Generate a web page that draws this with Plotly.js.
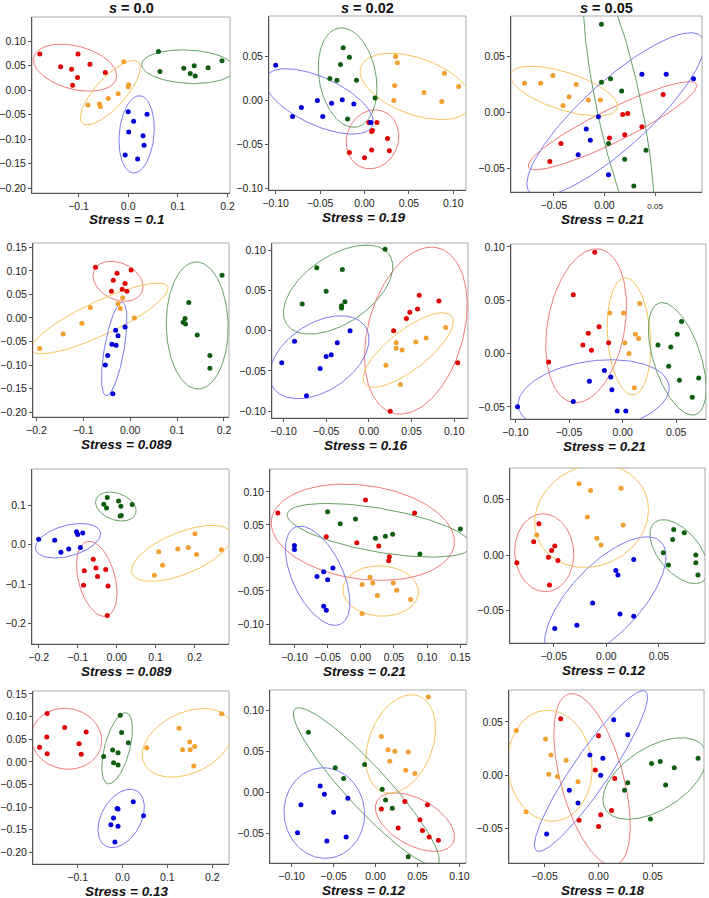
<!DOCTYPE html>
<html>
<head>
<meta charset="utf-8">
<script src="https://cdn.plot.ly/plotly-3.0.1.min.js"></script>
<style>
  html, body { margin: 0; padding: 0; background: #fff; }
  #chart { width: 709px; height: 898px; }
</style>
</head>
<body>
<div id="chart"></div>
<script>
// group order in every panel: red, orange, green, blue
var POINT_COLORS = ["#e00000", "#f0a030", "#0d5e0d", "#0000d8"];
var RING_COLORS = ["#f07a7a", "#f6c45c", "#66a066", "#7b7bf2"];

var COLUMN_TITLES = ["0.0", "0.02", "0.05"];
var STRESS = ["0.1", "0.19", "0.21", "0.089", "0.16", "0.21", "0.089", "0.21", "0.12", "0.13", "0.12", "0.18"];

// ellipses: [cx, cy, semi-axis a, semi-axis b, angle in degrees]

// row 1, s = 0.0
var p1x = [[-0.178, -0.101, -0.136, -0.114, -0.077, -0.046, -0.102, -0.112],
           [-0.009, 0.001, 0.000, -0.020, -0.040, -0.058, -0.056, -0.081],
           [0.061, 0.064, 0.112, 0.133, 0.125, 0.135, 0.161, 0.189],
           [0.000, 0.011, 0.038, 0.001, 0.030, 0.032, -0.006, 0.019]];
var p1y = [[0.074, 0.074, 0.048, 0.043, 0.053, 0.036, 0.026, 0.010],
           [0.058, 0.011, 0.007, -0.007, -0.017, -0.028, -0.033, -0.030],
           [0.079, 0.038, 0.045, 0.050, 0.034, 0.029, 0.046, 0.060],
           [-0.044, -0.063, -0.049, -0.085, -0.093, -0.112, -0.132, -0.140]];
var p1ell = [[-0.107, 0.046, 0.086, 0.044, -15], [-0.036, -0.005, 0.084, 0.030, 48],
             [0.121, 0.048, 0.094, 0.034, -3], [0.017, -0.090, 0.079, 0.035, 85]];
var p1xt = ["-0.1", "0.0", "0.1", "0.2"];
var p1yt = ["0.10", "0.05", "0.00", "-0.05", "-0.10", "-0.15", "-0.20"];

// row 1, s = 0.02
var p2x = [[0.005, 0.014, 0.008, 0.009, 0.026, 0.008, -0.017, 0.028, 0.000],
           [0.035, 0.037, 0.034, 0.090, 0.106, 0.067, 0.033, 0.087],
           [-0.024, -0.017, -0.027, -0.039, -0.031, -0.009, 0.012, -0.019],
           [-0.100, -0.081, -0.071, -0.053, -0.047, -0.037, -0.025, -0.012, 0.007]];
var p2y = [[-0.025, -0.025, -0.035, -0.034, -0.043, -0.056, -0.059, -0.057, -0.065],
           [0.050, 0.043, 0.017, 0.031, 0.016, 0.009, 0.000, -0.001],
           [0.060, 0.049, 0.041, 0.025, 0.023, 0.023, 0.003, -0.021],
           [0.040, -0.018, -0.008, 0.000, -0.018, -0.003, 0.001, -0.004, -0.025]];
var p2ell = [[0.009, -0.044, 0.034, 0.029, 70], [0.058, 0.016, 0.066, 0.032, -20],
             [-0.019, 0.026, 0.057, 0.032, 100], [-0.051, -0.001, 0.066, 0.027, -25]];
var p2xt = ["-0.10", "-0.05", "0.00", "0.05", "0.10"];
var p2yt = ["0.05", "0.00", "-0.05", "-0.10"];

// row 1, s = 0.05
var p3x = [[-0.054, -0.043, 0.005, 0.018, 0.023, 0.037, 0.020, 0.058],
           [-0.079, -0.063, -0.051, -0.028, -0.035, -0.041, -0.016, -0.004],
           [-0.003, -0.003, 0.006, 0.017, 0.004, 0.041, 0.020, 0.029],
           [-0.006, -0.018, -0.014, -0.026, 0.037, 0.061, 0.088, 0.004]];
var p3y = [[-0.044, -0.028, -0.023, -0.002, -0.001, -0.013, -0.020, 0.016],
           [0.026, 0.026, 0.033, 0.025, 0.014, 0.006, 0.011, 0.011],
           [0.079, 0.027, 0.030, 0.019, -0.028, -0.034, -0.042, -0.066],
           [-0.004, -0.015, -0.025, -0.038, 0.034, 0.034, 0.030, -0.056]];
var p3ell = [[0.008, -0.012, 0.091, 0.015, 24], [-0.040, 0.019, 0.055, 0.017, -16],
             [0.014, 0.007, 0.123, 0.022, 103], [0.011, -0.002, 0.110, 0.031, 39]];
var p3xt = ["-0.05", "0.00", "0.05"];
var p3yt = ["0.05", "0.00", "-0.05"];

// row 2
var p4x = [[-0.074, -0.028, -0.036, -0.011, -0.040, -0.017, -0.007, 0.002],
           [-0.193, -0.143, -0.103, -0.085, -0.026, -0.021, -0.016, 0.009],
           [0.196, 0.125, 0.117, 0.113, 0.118, 0.143, 0.170, 0.170],
           [-0.031, -0.011, -0.026, -0.039, -0.030, -0.048, -0.053, -0.037]];
var p4y = [[0.108, 0.095, 0.080, 0.073, 0.057, 0.061, 0.057, 0.102],
           [-0.065, -0.034, -0.011, 0.022, 0.030, 0.020, 0.043, 0.000],
           [0.091, 0.033, -0.001, -0.009, -0.013, -0.036, -0.080, -0.107],
           [-0.026, -0.019, -0.038, -0.056, -0.058, -0.080, -0.100, -0.161]];
var p4ell = [[-0.026, 0.078, 0.056, 0.039, -25], [-0.065, -0.001, 0.160, 0.036, 25],
             [0.143, -0.016, 0.135, 0.066, 91], [-0.034, -0.066, 0.101, 0.021, 80]];
var p4xt = ["-0.2", "-0.1", "0.00", "0.1", "0.2"];
var p4yt = ["0.15", "0.10", "0.05", "0.00", "-0.05", "-0.10", "-0.15", "-0.20"];

var p5x = [[0.059, 0.082, 0.048, 0.057, 0.044, 0.029, 0.104, 0.025],
           [0.090, 0.067, 0.055, 0.032, 0.032, 0.039, 0.020, 0.037],
           [0.019, -0.061, -0.031, -0.050, -0.078, -0.028, -0.032, -0.032],
           [-0.022, -0.087, -0.037, -0.044, -0.050, -0.057, -0.102, -0.073]];
var p5y = [[0.044, 0.037, 0.023, 0.027, 0.015, 0.000, -0.040, -0.100],
           [0.004, -0.009, -0.014, -0.015, -0.022, -0.024, -0.043, -0.067],
           [0.101, 0.078, 0.076, 0.049, 0.033, 0.036, 0.031, 0.028],
           [0.000, -0.013, -0.015, -0.030, -0.032, -0.047, -0.040, -0.081]];
var p5ell = [[0.055, 0.000, 0.106, 0.056, 76], [0.046, -0.024, 0.066, 0.024, 40],
             [-0.036, 0.051, 0.074, 0.041, 37], [-0.058, -0.033, 0.066, 0.041, 37]];
var p5xt = ["-0.10", "-0.05", "0.00", "0.05", "0.10"];
var p5yt = ["0.10", "0.05", "0.00", "-0.05", "-0.10"];

var p6x = [[-0.026, -0.046, -0.022, -0.032, -0.037, -0.029, -0.013, -0.069],
           [0.016, -0.012, 0.001, 0.012, 0.015, 0.002, 0.006, 0.011],
           [0.055, 0.051, 0.033, 0.045, 0.043, 0.071, 0.053, 0.065],
           [-0.017, -0.011, -0.031, -0.010, -0.046, -0.098, -0.005, 0.003]];
var p6y = [[0.095, 0.055, 0.025, 0.019, 0.008, 0.003, 0.010, -0.008],
           [0.047, 0.038, 0.038, 0.018, 0.014, 0.010, 0.000, -0.032],
           [0.030, 0.018, 0.008, 0.006, -0.012, -0.023, -0.025, -0.041],
           [-0.016, -0.022, -0.026, -0.034, -0.045, -0.050, -0.054, -0.054]];
var p6ell = [[-0.034, 0.026, 0.073, 0.036, 80], [0.006, 0.016, 0.055, 0.020, 94],
             [0.051, -0.005, 0.055, 0.022, 108], [-0.027, -0.040, 0.071, 0.033, 8]];
var p6xt = ["-0.10", "-0.05", "0.00", "0.05"];
var p6yt = ["0.10", "0.05", "0.00", "-0.05"];

// row 3
var p7x = [[-0.060, -0.083, -0.053, -0.028, -0.049, -0.085, -0.022, -0.024],
           [0.097, 0.118, 0.108, 0.157, 0.184, 0.201, 0.205, 0.269],
           [-0.024, -0.033, -0.026, 0.005, 0.011, 0.040, 0.009, 0.012],
           [-0.200, -0.159, -0.143, -0.123, -0.103, -0.100, -0.087, -0.093]];
var p7y = [[-0.037, -0.066, -0.059, -0.063, -0.081, -0.103, -0.105, -0.180],
           [-0.078, -0.052, -0.018, -0.011, -0.007, 0.028, -0.025, -0.013],
           [0.120, 0.103, 0.093, 0.111, 0.098, 0.102, 0.073, 0.074],
           [0.014, 0.011, -0.019, -0.011, 0.033, 0.026, 0.030, -0.007]];
var p7ell = [[-0.051, -0.087, 0.098, 0.047, 105], [0.167, -0.022, 0.137, 0.053, 22],
             [-0.002, 0.097, 0.054, 0.034, -20], [-0.125, 0.010, 0.086, 0.039, 15]];
var p7xt = ["-0.2", "-0.1", "0.00", "0.1", "0.2"];
var p7yt = ["0.1", "0.0", "-0.1", "-0.2"];

var p8x = [[-0.125, 0.007, 0.081, -0.052, -0.006, 0.027, 0.043, 0.042],
           [0.014, 0.002, 0.018, 0.049, 0.054, 0.025, 0.075, 0.002],
           [-0.050, -0.031, -0.008, 0.022, 0.037, 0.048, 0.089, 0.150],
           [-0.100, -0.100, -0.042, -0.066, -0.056, -0.050, -0.056, -0.052]];
var p8y = [[0.068, 0.088, 0.068, 0.032, 0.023, 0.018, 0.002, -0.004],
           [-0.029, -0.040, -0.038, -0.038, -0.049, -0.057, -0.063, -0.084],
           [0.070, 0.052, 0.059, 0.030, 0.033, 0.036, 0.006, 0.044],
           [0.019, 0.013, -0.015, -0.028, -0.021, -0.033, -0.073, -0.079]];
var p8ell = [[0.003, 0.039, 0.139, 0.071, -8], [0.030, -0.050, 0.057, 0.038, -3],
             [0.028, 0.042, 0.141, 0.033, -10], [-0.065, -0.027, 0.081, 0.038, 115]];
var p8xt = ["-0.10", "-0.05", "0.00", "0.05", "0.10", "0.15"];
var p8yt = ["0.10", "0.05", "0.00", "-0.05", "-0.10"];

var p9x = [[-0.064, -0.069, -0.049, -0.052, -0.055, -0.046, -0.085, -0.054],
           [-0.026, -0.015, 0.014, -0.018, 0.016, -0.009, -0.005, -0.066],
           [0.064, 0.074, 0.063, 0.054, 0.059, 0.085, 0.085, 0.087],
           [0.026, 0.009, 0.011, -0.013, 0.013, 0.026, -0.028, -0.049]];
var p9y = [[0.028, 0.012, 0.008, 0.004, -0.002, -0.005, -0.007, -0.027],
           [0.064, 0.058, 0.060, 0.034, 0.027, 0.015, 0.009, 0.018],
           [0.023, 0.020, 0.014, 0.002, -0.009, 0.000, -0.007, -0.018],
           [-0.004, -0.014, -0.018, -0.043, -0.053, -0.055, -0.063, -0.066]];
var p9ell = [[-0.059, 0.002, 0.035, 0.028, 95], [-0.014, 0.035, 0.055, 0.045, 19],
             [0.069, 0.003, 0.035, 0.019, -47], [-0.001, -0.040, 0.074, 0.032, 44]];
var p9xt = ["-0.05", "0.00", "0.05"];
var p9yt = ["0.05", "0.00", "-0.05"];

// row 4
var p10x = [[-0.168, -0.129, -0.081, -0.169, -0.185, -0.097, -0.168, -0.092],
            [0.221, 0.126, 0.150, 0.134, 0.151, 0.161, 0.054, 0.159],
            [-0.005, -0.002, 0.013, -0.022, -0.010, -0.042, -0.020, -0.010],
            [0.024, -0.012, -0.010, 0.047, -0.020, -0.026, -0.010, -0.017]];
var p10y = [[0.107, 0.076, 0.066, 0.055, 0.032, 0.040, 0.018, 0.017],
            [0.106, 0.074, 0.044, 0.027, 0.027, 0.034, 0.031, -0.009],
            [0.103, 0.065, 0.042, 0.026, 0.020, 0.012, -0.002, -0.007],
            [-0.088, -0.103, -0.104, -0.119, -0.124, -0.139, -0.142, -0.177]];
var p10ell = [[-0.125, 0.051, 0.079, 0.067, -10], [0.145, 0.042, 0.107, 0.067, 25],
              [-0.012, 0.030, 0.081, 0.028, 75], [-0.003, -0.125, 0.070, 0.044, 60]];
var p10xt = ["-0.1", "0.0", "0.1", "0.2"];
var p10yt = ["0.15", "0.10", "0.05", "0.00", "-0.05", "-0.10", "-0.15", "-0.20"];

var p11x = [[0.035, 0.007, 0.053, 0.062, 0.027, 0.056, 0.064, 0.075],
            [0.063, 0.007, 0.015, 0.023, 0.039, 0.017, 0.036, 0.047],
            [-0.080, -0.048, -0.013, -0.038, 0.008, 0.012, 0.020, 0.039],
            [-0.066, -0.061, -0.089, -0.033, -0.050, -0.093, -0.058, -0.035]];
var p11y = [[-0.011, -0.020, -0.033, -0.015, -0.043, -0.046, -0.054, -0.058],
            [0.116, 0.068, 0.052, 0.050, 0.049, 0.038, 0.027, 0.023],
            [0.073, 0.030, 0.034, 0.017, 0.004, -0.009, -0.019, -0.078],
            [0.008, -0.002, -0.015, -0.007, -0.024, -0.049, -0.059, -0.054]];
var p11ell = [[0.047, -0.036, 0.052, 0.028, -30], [0.030, 0.059, 0.062, 0.038, 70],
              [-0.011, 0.007, 0.127, 0.025, -48], [-0.061, -0.025, 0.055, 0.048, 95]];
var p11xt = ["-0.10", "-0.05", "0.00", "0.05", "0.10"];
var p11yt = ["0.10", "0.05", "0.00", "-0.05"];

var p12x = [[-0.035, 0.000, -0.003, 0.015, 0.002, 0.012, -0.018, 0.000],
            [-0.076, -0.049, -0.044, -0.030, -0.046, -0.038, -0.019, -0.067],
            [0.049, 0.057, 0.070, 0.062, 0.027, 0.024, 0.048, 0.092],
            [0.014, 0.027, -0.008, 0.004, 0.002, -0.027, -0.019, -0.048]];
var p12y = [[0.053, 0.037, 0.005, -0.003, -0.037, -0.033, -0.042, -0.048],
            [0.042, 0.034, 0.019, 0.014, 0.001, -0.001, -0.006, -0.034],
            [0.011, 0.013, 0.007, -0.009, -0.007, -0.014, -0.041, 0.016],
            [0.052, 0.038, 0.019, 0.016, 0.000, -0.014, -0.026, -0.055]];
var p12ell = [[-0.006, -0.004, 0.083, 0.029, 105], [-0.045, 0.009, 0.052, 0.039, 95],
              [0.052, -0.003, 0.054, 0.029, 33], [-0.007, 0.004, 0.090, 0.017, 56]];
var p12xt = ["-0.05", "0.00", "0.05"];
var p12yt = ["0.05", "0.00", "-0.05"];

var PANELS = [
  [p1x, p1y, p1ell, p1xt, p1yt], [p2x, p2y, p2ell, p2xt, p2yt], [p3x, p3y, p3ell, p3xt, p3yt],
  [p4x, p4y, p4ell, p4xt, p4yt], [p5x, p5y, p5ell, p5xt, p5yt], [p6x, p6y, p6ell, p6xt, p6yt],
  [p7x, p7y, p7ell, p7xt, p7yt], [p8x, p8y, p8ell, p8xt, p8yt], [p9x, p9y, p9ell, p9xt, p9yt],
  [p10x, p10y, p10ell, p10xt, p10yt], [p11x, p11y, p11ell, p11xt, p11yt], [p12x, p12y, p12ell, p12xt, p12yt]
];

// plot boxes in page pixels: left, right, top, bottom
var BOXES = [
  [32, 230, 17, 193], [269, 466, 16, 190], [511, 702, 16, 192],
  [33, 229, 243, 417], [272, 468, 243, 418], [511, 706, 244, 419],
  [32, 229, 469, 644], [270, 467, 469, 644], [510, 705, 468, 643],
  [33, 229, 691, 864], [270, 466, 690, 863], [509, 704, 690, 863]
];
var XRANGES = [
  [-0.1937, 0.2051], [-0.1075, 0.1143], [-0.0924, 0.0964],
  [-0.2073, 0.2108], [-0.1134, 0.1161], [-0.1041, 0.0778],
  [-0.2172, 0.2884], [-0.1368, 0.1600], [-0.0915, 0.0937],
  [-0.1996, 0.2375], [-0.1258, 0.1079], [-0.0828, 0.0975]
];
var YRANGES = [
  [-0.2095, 0.1493], [-0.1015, 0.0959], [-0.0714, 0.0863],
  [-0.2105, 0.1593], [-0.1085, 0.1089], [-0.0614, 0.1027],
  [-0.2525, 0.1924], [-0.1303, 0.1348], [-0.0790, 0.0781],
  [-0.2256, 0.1565], [-0.0856, 0.1244], [-0.0821, 0.0799]
];

var W = 709, H = 898;
var FONT = "Liberation Sans, Arial, sans-serif";

var ellipseOutline = function(e) {
  var xs = [], ys = [];
  var th = e[4] * Math.PI / 180;
  for (var i = 0; i <= 160; i++) {
    var t = 2 * Math.PI * i / 160;
    var u = e[2] * Math.cos(t), v = e[3] * Math.sin(t);
    xs.push(e[0] + u * Math.cos(th) - v * Math.sin(th));
    ys.push(e[1] + u * Math.sin(th) + v * Math.cos(th));
  }
  return { x: xs, y: ys };
};

var minus = function(s) { return s.replace("-", "\u2212"); };

var data = [];
var layout = {
  width: W, height: H,
  margin: { l: 0, r: 0, t: 0, b: 0 },
  paper_bgcolor: "#fff", plot_bgcolor: "#fff",
  showlegend: false,
  shapes: [], annotations: []
};

PANELS.forEach(function(p, i) {
  var n = i + 1;
  var xa = "x" + (n === 1 ? "" : n), ya = "y" + (n === 1 ? "" : n);
  var box = BOXES[i];

  p[2].forEach(function(e, g) {
    var o = ellipseOutline(e);
    data.push({ type: "scatter", mode: "lines", x: o.x, y: o.y, xaxis: xa, yaxis: ya,
      line: { color: RING_COLORS[g], width: 1 }, hoverinfo: "skip" });
  });
  p[0].forEach(function(xs, g) {
    data.push({ type: "scatter", mode: "markers", x: xs, y: p[1][g], xaxis: xa, yaxis: ya,
      marker: { color: POINT_COLORS[g], size: 5 }, cliponaxis: true });
  });

  var xtext = p[3].map(minus);
  if (n === 3) xtext[2] = "<span style='font-size:8px'>0.05</span>";

  var axisBase = {
    ticks: "outside", ticklen: 3, tickcolor: "#555", tickwidth: 1,
    showline: true, linecolor: "#555", linewidth: 1,
    showgrid: false, zeroline: false, tickmode: "array",
    tickfont: { family: FONT, size: 10.5, color: "#222" }
  };
  layout["xaxis" + (n === 1 ? "" : n)] = Object.assign({}, axisBase, {
    domain: [box[0] / W, box[1] / W], range: XRANGES[i], anchor: ya,
    tickvals: p[3].map(parseFloat), ticktext: xtext
  });
  layout["yaxis" + (n === 1 ? "" : n)] = Object.assign({}, axisBase, {
    domain: [1 - box[3] / H, 1 - box[2] / H], range: YRANGES[i], anchor: xa,
    tickvals: p[4].map(parseFloat), ticktext: p[4].map(minus)
  });

  layout.shapes.push({ type: "rect", xref: xa + " domain", yref: ya + " domain",
    x0: 0, x1: 1, y0: 0, y1: 1, line: { color: "#aaa", width: 1 }, layer: "below" });

  layout.annotations.push({
    text: "<b><i>Stress = " + STRESS[i] + "</i></b>",
    xref: "paper", yref: "paper", x: (box[0] + box[1]) / 2 / W - 0.006,
    y: 1 - (box[3] + 27) / H,
    xanchor: "center", yanchor: "middle", showarrow: false,
    font: { family: FONT, size: 13.5, color: "#111" }
  });
});

COLUMN_TITLES.forEach(function(t, c) {
  var box = BOXES[c];
  layout.annotations.push({
    text: "<b><i>s</i> = " + t + "</b>",
    xref: "paper", yref: "paper", x: (box[0] + box[1]) / 2 / W, y: 1 - 8 / H,
    xanchor: "center", yanchor: "middle", showarrow: false,
    font: { family: FONT, size: 14.5, color: "#111" }
  });
});

Plotly.newPlot("chart", data, layout, { displayModeBar: false, staticPlot: true });
</script>
</body>
</html>
